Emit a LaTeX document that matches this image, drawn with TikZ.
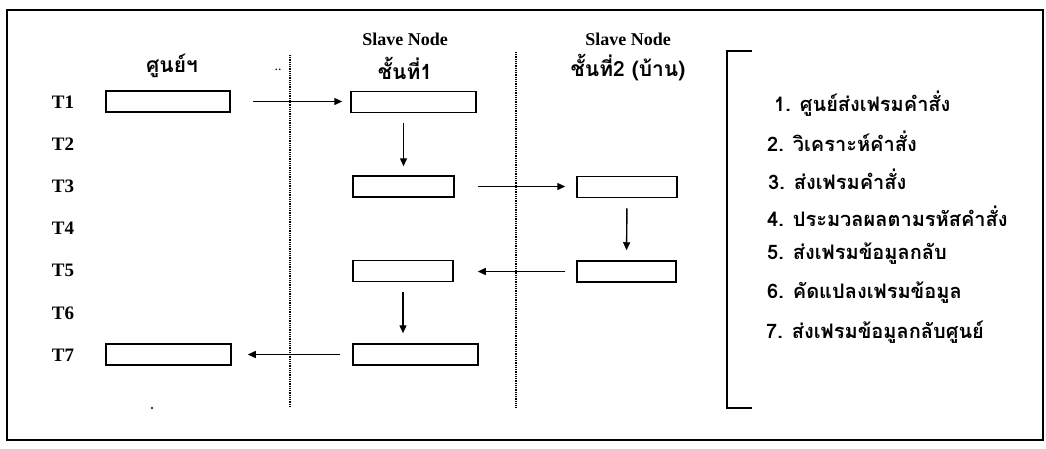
\documentclass[tikz,border=0pt]{standalone}
\usepackage{fontspec}
\setmainfont{Liberation Serif}
\newfontfamily\thaifont[Script=Thai]{Loma}
\usetikzlibrary{arrows.meta}
\begin{document}
\begin{tikzpicture}[x=1pt,y=-1pt,
  stagebox/.style={draw,line width=1.5pt,minimum height=21pt,inner sep=0pt},
  flow/.style={line width=1.4pt,-{Triangle[length=8pt,width=7pt]}},
  lane/.style={line width=1.2pt,dash pattern=on 0.8pt off 1pt},
  rowlab/.style={font=\fontsize{19}{21}\selectfont\bfseries,anchor=center},
  head/.style={font=\fontsize{18}{20}\selectfont\bfseries,anchor=center},
  thhead/.style={font=\thaifont\fontsize{21}{23}\selectfont\bfseries,anchor=center},
  item/.style={font=\thaifont\fontsize{20}{22}\selectfont\bfseries,anchor=west,inner sep=0pt}]
\useasboundingbox (0,0) rectangle (1046,448);
% frame
\draw[line width=1.6pt] (7,10) rectangle (1043,440);
% row labels
\foreach \k in {1,...,7}{
  \node[rowlab] (t\k) at (63,{102+42.2*(\k-1)}) {T\k};
}
% headers
\node[thhead] (h1) at (172,66) {ศูนย์ฯ};
\node[font=\fontsize{14}{14}\selectfont] (dd) at (278,70) {..};
\node[head] (h2a) at (405,39) {Slave Node};
\node[thhead] (h2b) at (405,68) {ชั้นที่1};
\node[head] (h3a) at (628,39) {Slave Node};
\node[thhead] (h3b) at (628,68) {ชั้นที่2 (บ้าน)};
% lanes
\coordinate (l1t) at (290,55); \coordinate (l1b) at (290,407);
\coordinate (l2t) at (516,52); \coordinate (l2b) at (516,407);
\draw[lane] (l1t) -- (l1b);
\draw[lane] (l2t) -- (l2b);
% boxes
\node[stagebox,minimum width=124pt] (c1r1) at (168,101.5) {};
\node[stagebox,minimum width=125pt] (c1r7) at (168.5,354.5) {};
\node[stagebox,minimum width=125pt] (c2r1) at (413.5,102) {};
\node[stagebox,minimum width=101pt] (c2r3) at (403.5,186.5) {};
\node[stagebox,minimum width=100pt] (c2r5) at (403,271) {};
\node[stagebox,minimum width=125pt] (c2r7) at (415.5,354.5) {};
\node[stagebox,minimum width=100pt] (c3r3) at (627,187) {};
\node[stagebox,minimum width=99pt] (c3r5) at (626.5,271.5) {};
% arrows
\draw[flow,shorten <=22pt,shorten >=8pt] (c1r1.east) -- (c1r1.east -| c2r1.west);
\draw[flow,shorten <=10pt,shorten >=9pt] (c2r1.south -| c2r3) -- (c2r3.north);
\draw[flow,shorten <=23pt,shorten >=11pt] (c2r3.east) -- (c2r3.east -| c3r3.west);
\draw[flow,shorten <=10pt,shorten >=10pt] (c3r3.south) -- (c3r5.north);
\draw[flow,shorten <=11pt,shorten >=24pt] (c3r5.west) -- (c3r5.west -| c2r5.east);
\draw[flow,shorten <=10pt,shorten >=10pt] (c2r5.south) -- (c2r5.south |- c2r7.north);
\draw[flow,shorten <=12pt,shorten >=16pt] (c2r7.west) -- (c2r7.west -| c1r7.east);
% stray dot
\fill (152,408) circle (1.1pt);
% bracket
\coordinate (bt) at (752,51); \coordinate (bb) at (752,408);
\draw[line width=1.4pt] (bt) -- (727,51) -- (727,408) -- (bb);
% list
\node[item] (i1) at (774,104) {1. ศูนย์ส่งเฟรมคำสั่ง};
\node[item] (i2) at (767,141) {2. วิเคราะห์คำสั่ง};
\node[item] (i3) at (768,179) {3. ส่งเฟรมคำสั่ง};
\node[item] (i4) at (767,216) {4. ประมวลผลตามรหัสคำสั่ง};
\node[item] (i5) at (767,254) {5. ส่งเฟรมข้อมูลกลับ};
\node[item] (i6) at (767,293) {6. คัดแปลงเฟรมข้อมูล};
\node[item] (i7) at (766,332) {7. ส่งเฟรมข้อมูลกลับศูนย์};
\end{tikzpicture}
\end{document}
